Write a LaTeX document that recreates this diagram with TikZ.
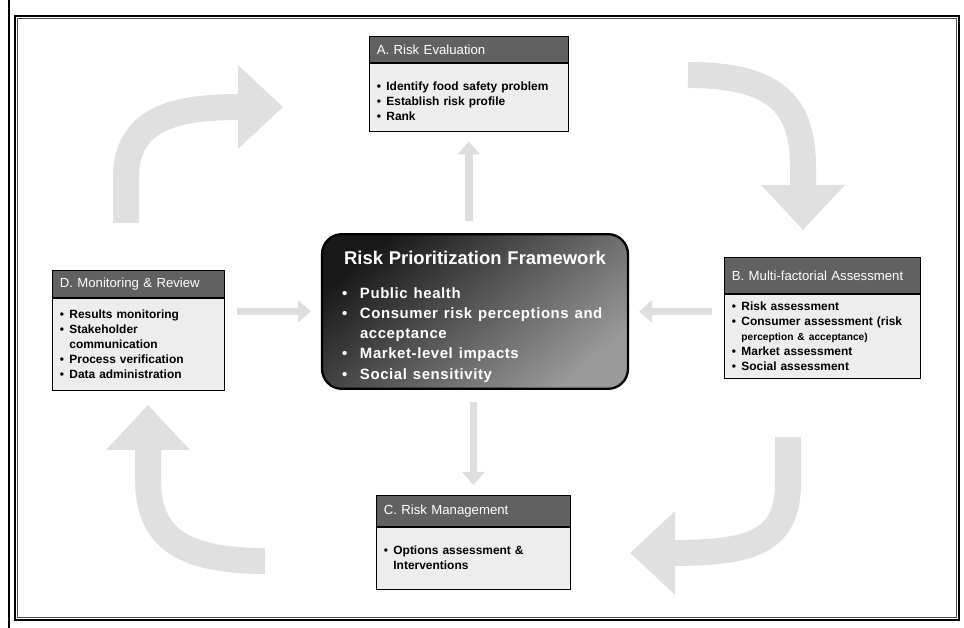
\documentclass[tikz,border=0pt]{standalone}
\usepackage{fontspec}
\setmainfont{Liberation Sans}
\usetikzlibrary{positioning,arrows.meta,calc}

\newcommand{\bl}{\makebox[0.8em][l]{\textbullet}}
\newcommand{\cn}{\hspace*{0.8em}}
\newcommand{\cbl}{\makebox[0.36cm][l]{\textbullet}}
\newcommand{\ccn}{\hspace*{0.36cm}}

\begin{document}
\begin{tikzpicture}[
    hdr/.style={draw=black, fill=black!62, text=white, anchor=north west, align=left,
        font=\fontsize{7.5}{9}\selectfont, inner xsep=0.15cm, text width=#1},
    body/.style={draw=black, fill=black!7, align=left, inner xsep=0.15cm, text width=#1,
        font=\bfseries\fontsize{6.8}{8.5}\selectfont},
    core/.style={draw=black, line width=1.3pt, rounded corners=0.4cm, text=white,
        top color=black!90, bottom color=black!40, shading angle=40,
        minimum width=6.12cm, minimum height=3.06cm, inner xsep=0.4cm,
        text width=5.32cm, align=left},
    flow/.style={line width=0.15cm, draw=black!13, -{Triangle[width=0.44cm,length=0.26cm]},
        shorten <=0.25cm, shorten >=0.2cm},
    cyclearrow/.style={line width=0.52cm, draw=black!12, -{Triangle[width=1.62cm,length=0.9cm]}}
]
    \useasboundingbox (0,0) rectangle (19.28,12.56);

    % frame
    \draw[line width=1.1pt] (0.18,0) -- (0.18,12.56);
    \draw[line width=1pt] (0.30,0.16) rectangle (19.18,12.24);
    \draw[line width=0.4pt, black!70] (0.35,0.21) rectangle (19.13,12.19);

    % cycle arrows
    \draw[cyclearrow] (2.52,8.10) -- (2.52,9.0) .. controls (2.52,10.2) and (3.5,10.42) .. (5.66,10.42);
    \draw[cyclearrow] (13.76,11.06) .. controls (15.6,11.06) and (16.06,10.4) .. (16.06,9.2) -- (16.06,7.96);
    \draw[cyclearrow] (15.76,3.82) -- (15.76,2.9) .. controls (15.76,1.7) and (15,1.5) .. (12.6,1.5);
    \draw[cyclearrow] (5.30,1.34) .. controls (3.5,1.34) and (2.96,1.9) .. (2.96,3.0) -- (2.96,4.46);

    \node[core] (F) at (9.50,6.33) {%
        \makebox[\linewidth]{\rule{0pt}{14pt}\bfseries\fontsize{10.5}{12}\selectfont Risk Prioritization Framework}\\[8pt]
        {\bfseries\addfontfeature{LetterSpace=4}\fontsize{8.5}{11.4}\selectfont
        \cbl Public health\\
        \cbl Consumer risk perceptions and\\
        \ccn acceptance\\
        \cbl Market-level impacts\\
        \cbl Social sensitivity}};

    \node[hdr=3.68cm, minimum height=0.52cm] (Ahead) at (7.38,11.84) {A. Risk Evaluation};
    \node[body=3.68cm, minimum height=1.36cm, below=0pt of Ahead] (Abody) {%
        \rule{0pt}{10pt}\bl Identify food safety problem\\
        \bl Establish risk profile\\
        \bl Rank};

    \node[hdr=3.62cm, minimum height=0.72cm] (Bhead) at (14.48,7.42) {B. Multi-factorial Assessment};
    \node[body=3.62cm, minimum height=1.68cm, below=0pt of Bhead] (Bbody) {%
        \bl Risk assessment\\
        \bl Consumer assessment (risk\\
        \cn{\fontsize{5.8}{7.5}\selectfont perception \& acceptance)}\\
        \bl Market assessment\\
        \bl Social assessment};

    \node[hdr=3.58cm, minimum height=0.62cm] (Chead) at (7.52,2.66) {C. Risk Management};
    \node[body=3.58cm, minimum height=1.24cm, below=0pt of Chead] (Cbody) {%
        \bl Options assessment \&\\
        \cn Interventions};

    \node[hdr=3.14cm, minimum height=0.54cm] (Dhead) at (1.04,7.16) {D. Monitoring \& Review};
    \node[body=3.14cm, minimum height=1.84cm, below=0pt of Dhead] (Dbody) {%
        \bl Results monitoring\\
        \bl Stakeholder\\
        \cn communication\\
        \bl Process verification\\
        \bl Data administration};

    \draw[flow] (F.north -| Abody) -- (Abody);
    \draw[flow] (F.south -| Chead) -- (Chead);
    \draw[flow] (Bbody.west |- F) -- (F);
    \draw[flow] (Dbody.east |- F) -- (F);

\end{tikzpicture}
\end{document}
